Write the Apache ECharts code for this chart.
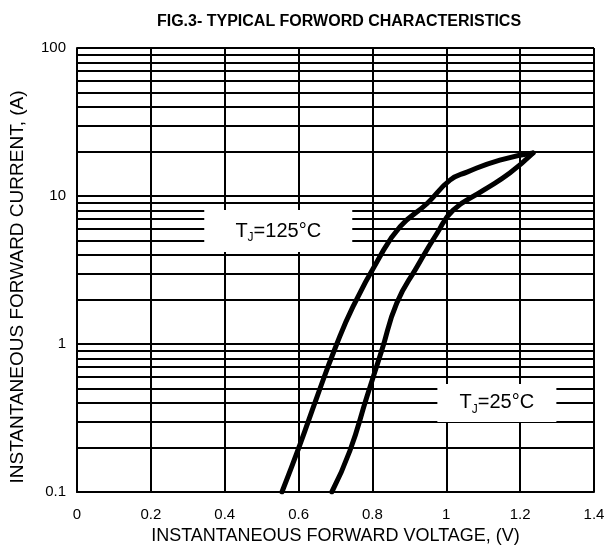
<!DOCTYPE html>
<html>
<head>
<meta charset="utf-8">
<script src="https://cdn.jsdelivr.net/npm/echarts@6/dist/echarts.min.js"></script>
<style>html,body{margin:0;padding:0;background:#fff}#c{width:608px;height:557px}</style>
</head>
<body>
<div id="c"></div>
<script>
var xTicks = [0, 0.2, 0.4, 0.6, 0.8, 1, 1.2, 1.4];
var yMajor = [0.1, 1, 10, 100];
var yMinor = [0.2,0.3,0.4,0.5,0.6,0.7,0.8,0.9,2,3,4,5,6,7,8,9,20,30,40,50,60,70,80,90];

var v125 = [0.555, 0.604, 0.65, 0.70, 0.747, 0.815, 0.875, 0.948, 1.01, 1.056, 1.145, 1.235];
var i125 = [0.1, 0.21, 0.44, 0.95, 1.78, 3.7, 6.2, 8.9, 12.8, 14.5, 17.5, 19.5];
var v25 = [0.69, 0.739, 0.785, 0.825, 0.866, 0.92, 0.975, 1.018, 1.1, 1.172, 1.235];
var i25 = [0.1, 0.19, 0.44, 0.9, 1.89, 3.3, 5.6, 8.0, 10.9, 14.3, 19.5];

var label125 = {v: 0.545, i: 5.8, name: '125°C'};
var label25 = {v: 1.137, i: 0.40, name: '25°C'};

function pairs(xs, ys){ return xs.map(function(x,k){return [x, ys[k]];}); }

var font = 'Liberation Sans, Arial, sans-serif';
var chart = echarts.init(document.getElementById('c'), null, {renderer:'canvas'});
var labelRich = {
  t: {fontSize: 20, fontFamily: font, color: '#000'},
  s: {fontSize: 12, fontFamily: font, color: '#000', verticalAlign: 'bottom', padding:[0,0,-3,0]}
};
function mp(l, w, h){
  return {
    coord: [l.v, l.i],
    symbol: 'rect',
    symbolSize: [w, h],
    itemStyle: {color: '#fff'},
    label: {show: true, position: 'inside', formatter: '{t|T}{s|J}{t|=' + l.name + '}', rich: labelRich}
  };
}
chart.setOption({
  animation: false,
  backgroundColor: '#fff',
  title: {
    text: 'FIG.3- TYPICAL FORWORD CHARACTERISTICS',
    left: 334, top: 9, textAlign: 'center',
    textStyle: {fontFamily: font, fontSize: 16, fontWeight: 'bold', color: '#000'}
  },
  grid: {left: 77, right: 14, top: 48, bottom: 65, outerBoundsMode: 'none', containLabel: false},
  xAxis: {
    type: 'value', min: 0, max: 1.4, interval: 0.2,
    name: 'INSTANTANEOUS FORWARD VOLTAGE, (V)', nameLocation: 'middle', nameGap: 34,
    nameTextStyle: {fontFamily: font, fontSize: 18, color: '#000'},
    axisLine: {show: true, onZero: false, lineStyle: {color: '#000', width: 2}},
    axisTick: {show: false},
    axisLabel: {fontFamily: font, fontSize: 15, color: '#000', margin: 15,
      formatter: function(v){ return String(Math.round(v*10)/10); }},
    splitLine: {show: true, lineStyle: {color: '#000', width: 2}}
  },
  yAxis: {
    type: 'log', logBase: 10, min: 0.1, max: 100,
    name: 'INSTANTANEOUS FORWARD CURRENT, (A)', nameLocation: 'middle', nameGap: 50, nameRotate: 90,
    nameTextStyle: {fontFamily: font, fontSize: 19, color: '#000', padding: [0, 34, 0, 0]},
    axisLine: {show: true, lineStyle: {color: '#000', width: 2}},
    axisTick: {show: false},
    axisLabel: {fontFamily: font, fontSize: 15, color: '#000', margin: 11,
      formatter: function(v){ return String(+(+v).toPrecision(3)); }},
    splitLine: {show: true, lineStyle: {color: '#000', width: 2}}
  },
  series: [
    {
      type: 'line', data: [], z: 1, silent: true,
      markLine: {
        silent: true, symbol: 'none', animation: false,
        label: {show: false},
        lineStyle: {color: '#000', width: 2, type: 'solid'},
        data: yMinor.map(function(v){ return {yAxis: v}; })
      }
    },
    {
      type: 'line', data: pairs(v125, i125), smooth: 0.5, showSymbol: false, z: 3,
      lineStyle: {color: '#000', width: 5, cap: 'round', join: 'round'}
    },
    {
      type: 'line', data: pairs(v25, i25), smooth: 0.5, showSymbol: false, z: 3,
      lineStyle: {color: '#000', width: 5, cap: 'round', join: 'round'}
    },
    {
      type: 'scatter', data: [], z: 5,
      markPoint: {
        silent: true, animation: false,
        data: [mp(label125, 148, 42), mp(label25, 119, 38)]
      }
    }
  ]
});
</script>
</body>
</html>
